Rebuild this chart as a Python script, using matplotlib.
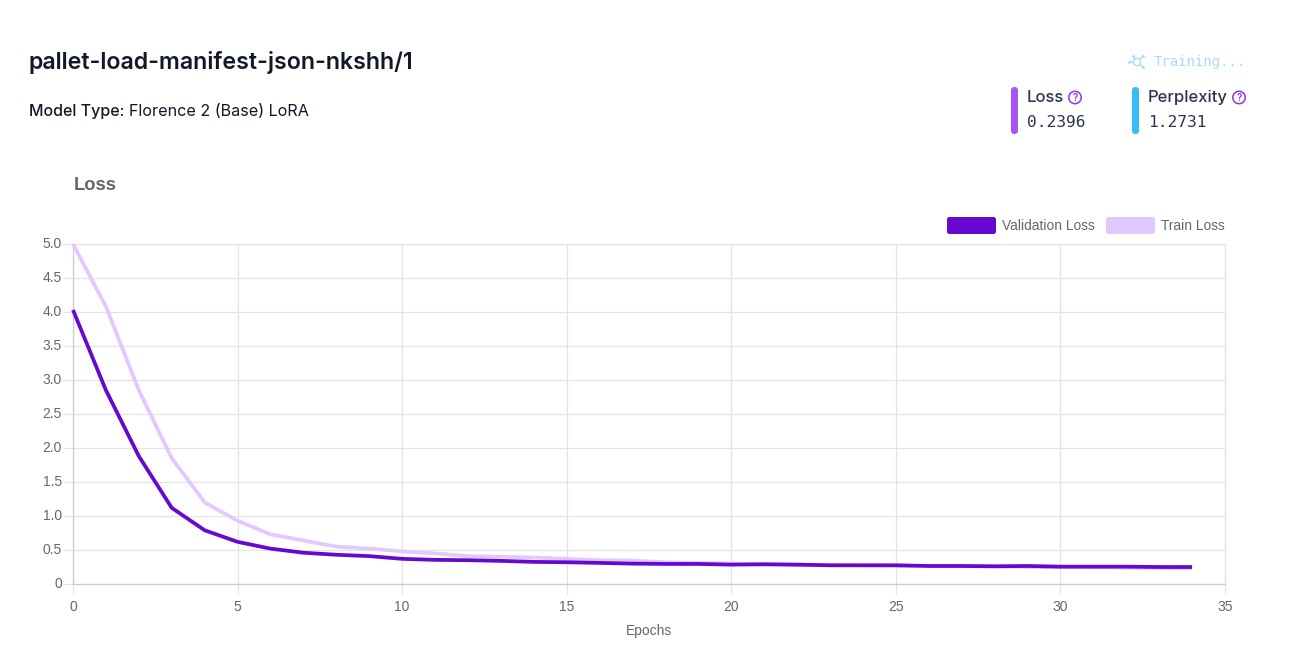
import matplotlib
matplotlib.use("Agg")
import matplotlib.pyplot as plt
from matplotlib.patches import FancyBboxPatch, Circle
from matplotlib.transforms import ScaledTranslation

W, H = 1294, 648

epochs = list(range(35))
val_loss = [4.03, 2.85, 1.88, 1.12, 0.79, 0.62, 0.52, 0.46, 0.43, 0.41, 0.37, 0.355,
            0.35, 0.34, 0.325, 0.32, 0.31, 0.30, 0.295, 0.295, 0.285, 0.29, 0.285, 0.275,
            0.275, 0.275, 0.265, 0.265, 0.26, 0.265, 0.255, 0.255, 0.255, 0.25, 0.25]
train_loss = [5.0, 4.08, 2.85, 1.85, 1.2, 0.93, 0.73, 0.64, 0.55, 0.52, 0.48, 0.45,
              0.41, 0.40, 0.39, 0.37, 0.35, 0.345, 0.32, 0.31, 0.30, 0.29, 0.28, 0.28,
              0.275, 0.27, 0.265, 0.26, 0.26, 0.25, 0.25, 0.245, 0.24, 0.235, 0.23]
x_ticks = [0, 5, 10, 15, 20, 25, 30, 35]
y_ticks = [0, 0.5, 1.0, 1.5, 2.0, 2.5, 3.0, 3.5, 4.0, 4.5, 5.0]
y_labels = ["0", "0.5", "1.0", "1.5", "2.0", "2.5", "3.0", "3.5", "4.0", "4.5", "5.0"]

DARK = "#6508d0"
LIGHT = "#e3c8ff"
GREY = "#666666"
INK = "#111827"
SLATE = "#2b3550"

fig = plt.figure(figsize=(W / 100, H / 100), dpi=100, facecolor="white")

# chart area, in pixels of the reference
left, right, top, bottom = 73, 1225, 244, 584
ax = fig.add_axes([left / W, 1 - bottom / H, (right - left) / W, (bottom - top) / H])
ax.plot(epochs, train_loss, color=LIGHT, lw=2.7, solid_joinstyle="round", solid_capstyle="butt",
        clip_on=False, zorder=3)
ax.plot(epochs, val_loss, color=DARK, lw=2.7, solid_joinstyle="round", solid_capstyle="butt",
        clip_on=False, zorder=4)
ax.set_xlim(0, 35)
ax.set_ylim(0, 5)
ax.set_xticks(x_ticks)
ax.set_yticks(y_ticks)
ax.set_yticklabels(y_labels)
ax.grid(True, color="#e4e4e4", lw=0.9)
ax.set_axisbelow(True)
ax.tick_params(axis="x", length=7, width=0.9, color="#e4e4e4", labelcolor=GREY, labelsize=10, pad=4.5)
ax.tick_params(axis="y", length=7, width=0.9, color="#e4e4e4", labelcolor=GREY, labelsize=10, pad=1)
up_1px = ScaledTranslation(0, 1 / 100, fig.dpi_scale_trans)
for tick in ax.get_xticklabels() + ax.get_yticklabels():
    tick.set_family("Liberation Sans")
for tick in ax.get_yticklabels():
    tick.set_transform(tick.get_transform() + up_1px)
for name, spine in ax.spines.items():
    spine.set_color("#e4e4e4" if name in ("top", "right") else "#cccccc")
    spine.set_linewidth(0.9)
ax.set_xlabel("Epochs", color=GREY, fontsize=10, family="Liberation Sans", labelpad=7)

# everything else is placed on an overlay in pixel coords
ov = fig.add_axes([0, 0, 1, 1], facecolor="none")
ov.set_xlim(0, W)
ov.set_ylim(H, 0)
ov.axis("off")


def pill(x, y, w, h, color, r):
    ov.add_patch(FancyBboxPatch((x + r, y + r), w - 2 * r, h - 2 * r,
                                boxstyle=f"round,pad={r}", fc=color, ec="none"))


def help_icon(x, y):
    ov.add_patch(Circle((x, y), 6.2, fc="white", ec="#9333ea", lw=1.1))
    ov.text(x, y + 0.3, "?", color="#9333ea", fontsize=7, family="Inter", weight="semibold",
            ha="center", va="center")


ov.text(28.5, 63, "pallet-load-manifest-json-nkshh/1", color=INK, fontsize=16.7, family="Inter",
        weight="semibold", va="center")
ov.text(29, 111.5, "Model Type:", color=INK, fontsize=11.5, family="Inter", weight="medium", va="center")
ov.text(129, 111.5, "Florence 2 (Base) LoRA", color=INK, fontsize=11.6, family="Inter", va="center")
ov.text(74, 185.5, "Loss", color=GREY, fontsize=13.2, family="Liberation Sans", weight="bold", va="center")

# training badge
BLUE_SOFT = "#a8ddfa"
ov.plot([1130, 1137, 1143], [62, 62, 56], color=BLUE_SOFT, lw=1.0)
ov.plot([1133, 1137, 1143], [56, 62, 67], color=BLUE_SOFT, lw=1.0)
ov.scatter([1129, 1133, 1143, 1143], [62, 56, 56, 67], s=4, color=BLUE_SOFT, linewidths=0)
ov.add_patch(Circle((1137, 62), 3.6, fc="white", ec=BLUE_SOFT, lw=1.0, zorder=3))
ov.text(1154, 62, "Training...", color=BLUE_SOFT, fontsize=10.1, family="DejaVu Sans Mono", va="center")

# metrics
pill(1011, 87, 7, 47, "#a855f7", 3.5)
ov.text(1027, 97.5, "Loss", color=SLATE, fontsize=12, family="Inter", weight="medium", va="center")
help_icon(1075, 97.5)
ov.text(1027, 122.5, "0.2396", color=SLATE, fontsize=11.7, family="DejaVu Sans Mono", va="center")

pill(1132, 87, 7, 47, "#38bdf8", 3.5)
ov.text(1148, 97.5, "Perplexity", color=SLATE, fontsize=12, family="Inter", weight="medium", va="center")
help_icon(1239, 97.5)
ov.text(1148, 122.5, "1.2731", color=SLATE, fontsize=11.7, family="DejaVu Sans Mono", va="center")

# legend
pill(947, 217, 49, 17, DARK, 2.5)
ov.text(1002, 225.5, "Validation Loss", color=GREY, fontsize=9.95, family="Liberation Sans", va="center")
pill(1106, 217, 49, 17, LIGHT, 2.5)
ov.text(1161, 225.5, "Train Loss", color=GREY, fontsize=9.95, family="Liberation Sans", va="center")

fig.savefig("out.png", dpi=100, facecolor="white")
